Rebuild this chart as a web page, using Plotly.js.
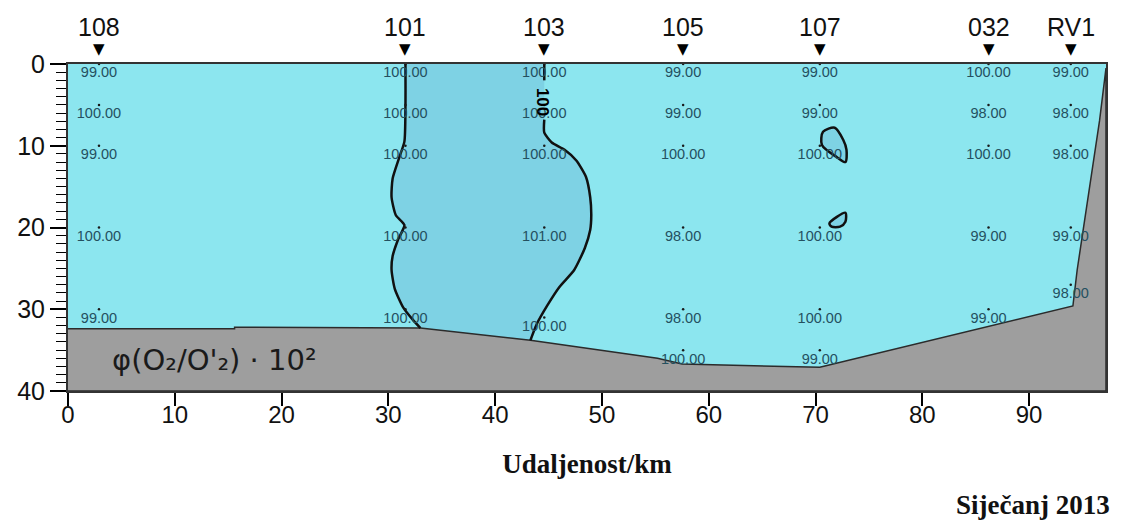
<!DOCTYPE html>
<html>
<head>
<meta charset="utf-8">
<script src="https://cdn.plot.ly/plotly-3.0.1.min.js"></script>
<style>html,body{margin:0;padding:0;background:#fff}#chart{width:1121px;height:526px}</style>
</head>
<body>
<div id="chart"></div>
<script>
// ---- data ----
const stations = ["108", "101", "103", "105", "107", "032", "RV1"];
const stationKm = [2.9, 31.6, 44.6, 57.6, 70.4, 86.2, 93.9];
const sampleDepths = [
  [0, 5, 10, 20, 30],
  [0, 5, 10, 20, 30],
  [0, 5, 10, 20, 31],
  [0, 5, 10, 20, 30, 35],
  [0, 5, 10, 20, 30, 35],
  [0, 5, 10, 20, 30],
  [0, 5, 10, 20, 27]
];
const sampleValues = [
  [99, 100, 99, 100, 99],
  [100, 100, 100, 100, 100],
  [100, 100, 100, 101, 100],
  [99, 99, 100, 98, 98, 100],
  [99, 99, 100, 100, 100, 99],
  [100, 98, 100, 99, 99],
  [99, 98, 98, 99, 98]
];
// seabed profile (km, depth m)
const bedKm = [0, 15.6, 15.6, 33.0, 43.3, 55.2, 57.5, 63.6, 70.4, 94.1, 94.5, 96.6, 97.2, 97.2, 0];
const bedDepth = [32.4, 32.4, 32.2, 32.3, 33.8, 36.0, 36.7, 36.9, 37.1, 29.6, 25.2, 6.9, 0.5, 40, 40];
// 100 contour (left branch near station 101)
const c1Km = [31.6, 31.6, 31.5, 31.0, 30.4, 30.3, 30.7, 31.5, 30.9, 30.4, 30.3, 30.6, 31.4, 32.3, 33.0];
const c1Depth = [0, 5, 9.5, 11.5, 14, 16.3, 18.5, 19.7, 21.5, 23.5, 25.2, 27.5, 29.8, 31.3, 32.3];
// 100 contour (right branch near station 103)
const c2Km = [44.6, 44.6, 44.6, 44.6, 45.3, 46.5, 47.6, 48.5, 48.9, 49.0, 48.9, 48.4, 47.4, 46.0, 44.9, 43.9, 43.3];
const c2Depth = [0, 2.0, 6.8, 8.4, 9.6, 10.5, 11.8, 13.8, 16.3, 18.5, 20.3, 22.5, 25.2, 27.3, 29.5, 31.8, 33.8];
// small closed contours near station 107
const c3Km = [70.7, 71.8, 72.6, 72.9, 72.8, 72.0, 70.6, 70.7];
const c3Depth = [8.3, 7.8, 9.3, 10.5, 12.0, 11.4, 9.9, 8.3];
const c4Km = [71.3, 72.0, 72.8, 72.8, 72.3, 71.5, 71.3];
const c4Depth = [19.5, 18.7, 18.2, 19.3, 19.9, 19.9, 19.5];
const contourLabel = "100";
const xTicks = [0, 10, 20, 30, 40, 50, 60, 70, 80, 90];
const yTicks = [0, 10, 20, 30, 40];

// ---- build ----
const light = "#8ce6ef", dark = "#7ed2e4", bed = "#9e9e9e", ink = "#111";
const traces = [];

const fillX = c1Km.concat([43.3]).concat(c2Km.slice().reverse());
const fillY = c1Depth.concat([33.8]).concat(c2Depth.slice().reverse());
traces.push({x: fillX, y: fillY, mode: "lines", fill: "toself", fillcolor: dark, line: {width: 0, shape: "spline", smoothing: 0.6}});
traces.push({x: c3Km, y: c3Depth, mode: "lines", fill: "toself", fillcolor: dark, line: {color: ink, width: 2.5, shape: "spline", smoothing: 0.8}});
traces.push({x: c4Km, y: c4Depth, mode: "lines", fill: "toself", fillcolor: dark, line: {color: ink, width: 2.5, shape: "spline", smoothing: 0.8}});

traces.push({x: bedKm, y: bedDepth, mode: "lines", fill: "toself", fillcolor: bed, line: {color: "#2b2b2b", width: 1.5}});

traces.push({x: c1Km, y: c1Depth, mode: "lines", line: {color: ink, width: 2.5, shape: "spline", smoothing: 0.6}});
const c2X = c2Km.slice(0, 2).concat([null]).concat(c2Km.slice(2));
const c2Y = c2Depth.slice(0, 2).concat([null]).concat(c2Depth.slice(2));
traces.push({x: c2X, y: c2Y, mode: "lines", connectgaps: false, line: {color: ink, width: 2.5, shape: "spline", smoothing: 0.6}});

const px = [], py = [], pt = [];
stations.forEach((s, i) => {
  sampleDepths[i].forEach((d, j) => {
    px.push(stationKm[i]); py.push(d); pt.push(sampleValues[i][j].toFixed(2));
  });
});
traces.push({x: px, y: py, text: pt, mode: "markers+text", textposition: "bottom center",
  marker: {size: 2.5, color: "#1a1a1a"},
  textfont: {family: "Arial, Liberation Sans, sans-serif", size: 14.5, color: "#24505f"}, cliponaxis: false});

const annotations = [];
stations.forEach((s, i) => {
  annotations.push({x: stationKm[i], y: 1.113, xref: "x", yref: "paper", text: s, showarrow: false,
    font: {family: "Arial, Liberation Sans, sans-serif", size: 25, color: "#111"}, xanchor: "center", yanchor: "middle"});
  annotations.push({x: stationKm[i], y: 1.045, xref: "x", yref: "paper", text: "▼", showarrow: false,
    font: {family: "DejaVu Sans, sans-serif", size: 15, color: "#000"}, xanchor: "center", yanchor: "middle"});
});
annotations.push({x: 44.45, y: 4.6, xref: "x", yref: "y", text: "<b>" + contourLabel + "</b>", textangle: 90, showarrow: false,
  font: {family: "Arial, Liberation Sans, sans-serif", size: 17, color: "#000"}});
annotations.push({x: 3.9, y: 36.2, xref: "x", yref: "y", xanchor: "left", yanchor: "middle", showarrow: false,
  text: "φ(O₂/O'₂) · 10²",
  font: {family: "DejaVu Sans, Arial, sans-serif", size: 29, color: "#1a1a1a"}});
annotations.push({x: 1.006, y: -0.349, xref: "paper", yref: "paper", xanchor: "right", yanchor: "middle", showarrow: false,
  text: "<b>Siječanj 2013</b>",
  font: {family: "Liberation Serif, Times New Roman, serif", size: 27, color: "#111"}});

const layout = {
  width: 1121, height: 526,
  margin: {l: 68, r: 15, t: 64, b: 135, pad: 0},
  plot_bgcolor: light, showlegend: false, hovermode: false,
  xaxis: {range: [0, 97.2], tickvals: xTicks, ticktext: xTicks.map(String), ticks: "outside", ticklen: 13, tickwidth: 2, tickcolor: "#000",
    showline: true, linecolor: "#333", linewidth: 2, mirror: true, showgrid: false, zeroline: false,
    ticklabelstandoff: -12,
    tickfont: {family: "Arial, Liberation Sans, sans-serif", size: 24, color: "#111"},
    title: {text: "<b>Udaljenost/km</b>", standoff: 27, font: {family: "Liberation Serif, Times New Roman, serif", size: 27, color: "#111"}}},
  yaxis: {range: [40, 0], tickvals: yTicks, ticktext: yTicks.map(String), ticks: "outside", ticklen: 16, tickwidth: 2, tickcolor: "#000",
    minor: {dtick: 1, ticks: "outside", ticklen: 10, tickwidth: 1.3, tickcolor: "#000"},
    showline: true, linecolor: "#333", linewidth: 2, mirror: true, showgrid: false, zeroline: false,
    tickfont: {family: "Arial, Liberation Sans, sans-serif", size: 25, color: "#111"}},
  annotations: annotations
};
Plotly.newPlot("chart", traces, layout, {displayModeBar: false});
</script>
</body>
</html>
